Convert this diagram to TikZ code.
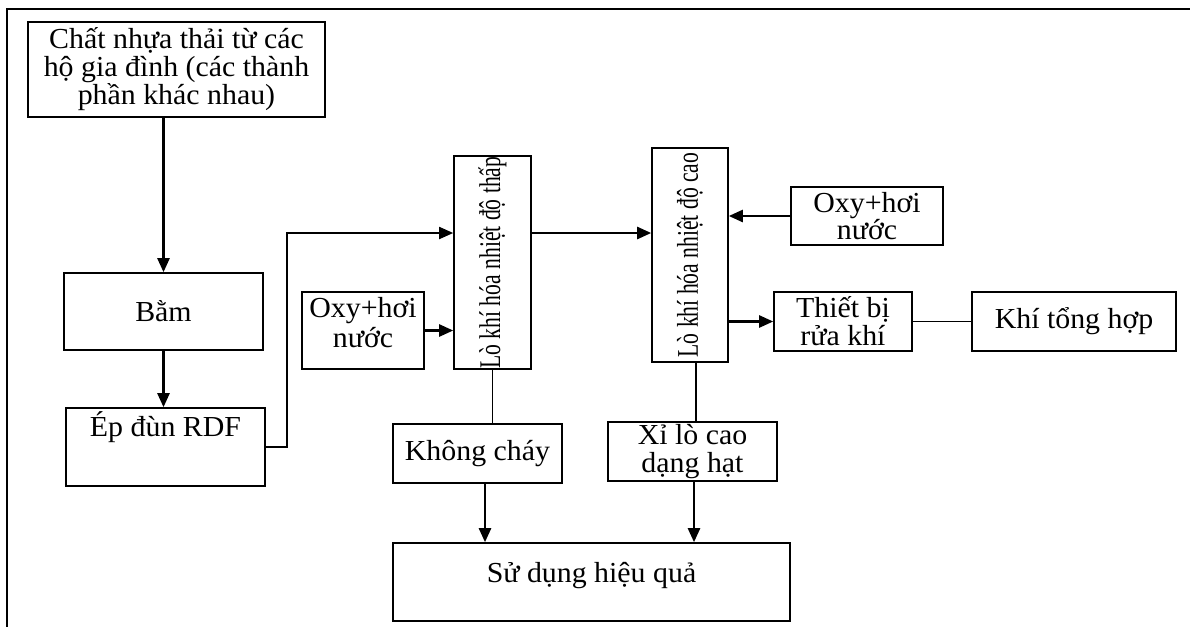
\documentclass[tikz,border=0pt]{standalone}
\usepackage{fontspec}
\setmainfont{Liberation Serif}[FakeStretch=1.03]
\newfontfamily\sidefont{Liberation Serif}[FakeStretch=0.72]
\usetikzlibrary{arrows.meta}
\begin{document}
\begin{tikzpicture}[x=1pt,y=-1pt,
  box/.style={draw, line width=1.6pt, inner sep=0pt, align=center,
              font=\fontsize{29}{29}\selectfont},
  upbox/.style={box, rotate=90, font=\sidefont\fontsize{30}{30}\selectfont},
  flow/.style={line width=2.4pt, -{Triangle[length=14pt,width=12pt]}},
  link/.style={line width=1.6pt}]
\useasboundingbox (0,0) rectangle (1190,627);
% page frame (top and left rules)
\draw[line width=2pt] (1190,9) -- (7,9) -- (7,627);

% process boxes
\node[box, minimum width=297pt, minimum height=95pt,
      font=\fontsize{29}{28}\selectfont] (src) at (176.5,69.5)
  {Chất nhựa thải từ các\\hộ gia đình (các thành\\phần khác nhau)};
\node[box, minimum width=199pt, minimum height=77pt] (bam) at (163.5,311.5) {Bằm};
\node[box, minimum width=199pt, text height=28pt, text depth=50pt] (ep) at (165.5,447) {Ép đùn RDF};
\node[box, minimum width=122pt, minimum height=77pt,
      font=\fontsize{29}{30}\selectfont] (oxyA) at (363,330.5)
  {Oxy+hơi\\nước\rule[-16pt]{0pt}{16pt}};
\node[upbox, minimum width=213pt, minimum height=77pt] (lowA) at (492.5,262.5)
  {Lò khí hóa nhiệt độ thấp};
\node[upbox, minimum width=214pt, minimum height=76pt] (highB) at (690,255)
  {Lò khí hóa nhiệt độ cao};
\node[box, minimum width=152pt, minimum height=58pt,
      font=\fontsize{29}{27}\selectfont] (oxyB) at (867,216) {Oxy+hơi\\nước};
\node[box, minimum width=138pt, minimum height=59pt,
      font=\fontsize{29}{28}\selectfont] (wash) at (843,321.5) {Thiết bị\\rửa khí};
\node[box, minimum width=204pt, minimum height=59pt] (syngas) at (1074,321.5) {Khí tổng hợp};
\node[box, minimum width=169pt, minimum height=59pt] (inert) at (477.5,453.5) {Không cháy};
\node[box, minimum width=169pt, minimum height=59pt,
      font=\fontsize{29}{28}\selectfont] (slag) at (692.5,451.5) {Xỉ lò cao\\dạng hạt};
\node[box, minimum width=397pt, text height=39pt, text depth=39pt] (use) at (591.5,582) {Sử dụng hiệu quả};

% connectors
\draw[flow] (bam.north |- src.south) -- (bam.north);
\draw[flow] (bam.south) -- (bam.south |- ep.north);
\draw[flow, line width=1.8pt] (ep.east) -| (287,233) -- (lowA.north |- 287,233);
\draw[flow] (oxyA.east) -- (oxyA.east -| lowA.north);
\draw[flow] (lowA.south |- 0,233) -- (highB.north |- 0,233);
\draw[flow] (oxyB.west) -- (oxyB.west -| highB.south);
\draw[flow] (wash.west -| highB.south) -- (wash.west);
\draw[line width=1.2pt] (wash.east) -- (syngas.west);
\draw[link] (lowA.west) -- (lowA.west |- inert.north);
\draw[link] ([xshift=6pt]highB.west) -- ([xshift=6pt]highB.west |- slag.north);
\draw[flow] ([xshift=7.5pt]inert.south) -- ([xshift=7.5pt]inert.south |- use.north);
\draw[flow] ([xshift=1.5pt]slag.south) -- ([xshift=1.5pt]slag.south |- use.north);
\end{tikzpicture}
\end{document}
